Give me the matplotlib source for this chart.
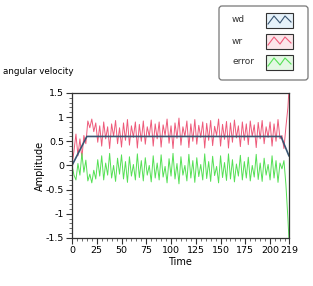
import matplotlib
matplotlib.use("Agg")
import matplotlib.pyplot as plt
from matplotlib.patches import FancyBboxPatch, Rectangle
from matplotlib.ticker import MultipleLocator

# Setpoint (wd) corner points
wd_t = [0, 15, 211, 219]
wd_v = [0.0, 0.6, 0.6, 0.2]

# Sampled time axis for wr / error
time = list(range(0, 219, 2)) + [219]

# Measured velocity (wr)
wr = [0.00, 0.30, 0.65, 0.20, 0.55, 0.15, 0.62, 0.45, 0.92, 0.78,
      0.96, 0.70, 0.88, 0.48, 0.82, 0.40, 0.90, 0.55, 0.80, 0.35,
      0.86, 0.60, 0.93, 0.45, 0.78, 0.38, 0.88, 0.52, 0.95, 0.42,
      0.82, 0.58, 0.90, 0.36, 0.85, 0.50, 0.92, 0.44, 0.80, 0.60,
      0.94, 0.40, 0.86, 0.55, 0.90, 0.38, 0.84, 0.62, 0.96, 0.46,
      0.82, 0.35, 0.88, 0.56, 0.98, 0.42, 0.80, 0.60, 0.92, 0.37,
      0.86, 0.50, 0.95, 0.44, 0.83, 0.58, 0.90, 0.36, 0.87, 0.52,
      0.93, 0.41, 0.81, 0.62, 0.96, 0.40, 0.85, 0.54, 0.91, 0.36,
      0.88, 0.48, 0.94, 0.57, 0.82, 0.39, 0.90, 0.52, 0.86, 0.43,
      0.92, 0.60, 0.84, 0.37, 0.89, 0.55, 0.93, 0.45, 0.80, 0.58,
      0.90, 0.40, 0.86, 0.50, 0.95, 0.55, 0.62, 0.35, 0.80, 1.20,
      1.55]

# Tracking error
error = [0.00, -0.20, -0.30, 0.04, -0.20, 0.25, -0.14, 0.11, -0.32, -0.18,
         -0.36, -0.10, -0.28, 0.12, -0.22, 0.20, -0.30, 0.05, -0.20, 0.25,
         -0.26, 0.00, -0.33, 0.15, -0.18, 0.22, -0.28, 0.08, -0.35, 0.18,
         -0.22, 0.02, -0.30, 0.24, -0.25, 0.10, -0.32, 0.16, -0.20, 0.00,
         -0.34, 0.20, -0.26, 0.05, -0.30, 0.22, -0.24, -0.02, -0.36, 0.14,
         -0.22, 0.25, -0.28, 0.04, -0.38, 0.18, -0.20, 0.00, -0.32, 0.23,
         -0.26, 0.10, -0.35, 0.16, -0.23, 0.02, -0.30, 0.24, -0.27, 0.08,
         -0.33, 0.19, -0.21, -0.02, -0.36, 0.20, -0.25, 0.06, -0.31, 0.24,
         -0.28, 0.12, -0.34, 0.03, -0.22, 0.21, -0.30, 0.08, -0.26, 0.17,
         -0.32, 0.00, -0.24, 0.23, -0.29, 0.05, -0.33, 0.15, -0.20, 0.02,
         -0.30, 0.20, -0.26, 0.10, -0.35, 0.05, -0.07, 0.10, -0.40, -1.10,
         -1.50]

x_ticks = [0, 25, 50, 75, 100, 125, 150, 175, 200, 219]
y_ticks = [-1.5, -1, -0.5, 0, 0.5, 1, 1.5]
y_tick_labels = ["-1.5", "-1", "-0.5", "0", "0.5", "1", "1.5"]

legend_names = ["wd", "wr", "error"]
c_wd, c_wr, c_err = "#3a5673", "#ee5a7a", "#55e055"
fills = ["#e6f2fa", "#fbe6ea", "#e4f8e4"]

plt.rcParams["font.family"] = "DejaVu Sans"
fig = plt.figure(figsize=(3.13, 2.86), dpi=100)
ax = fig.add_axes([0.230, 0.168, 0.693, 0.507])

ax.plot(time, wr, color=c_wr, lw=0.7)
ax.plot(time, error, color=c_err, lw=0.7)
ax.plot(wd_t, wd_v, color=c_wd, lw=1.2)

ax.set_xlim(0, 219)
ax.set_ylim(-1.5, 1.5)
ax.set_xticks(x_ticks)
ax.set_yticks(y_ticks)
ax.set_yticklabels(y_tick_labels)
ax.xaxis.set_minor_locator(MultipleLocator(5))
ax.yaxis.set_minor_locator(MultipleLocator(0.1))
ax.tick_params(which="major", length=4, width=0.8, labelsize=6.8, pad=1.5, color="#333333")
ax.tick_params(which="minor", length=2, width=0.6, color="#555555")
for s in ax.spines.values():
    s.set_color("#333333")
    s.set_linewidth(0.9)

ax.set_xlabel("Time", fontsize=7, labelpad=2)
ax.set_ylabel("Amplitude", fontsize=7, labelpad=1)
fig.text(3 / 313, 1 - 72 / 286, "angular velocity", fontsize=6.3, va="center", ha="left")

# legend panel, pixel coordinates
lg = fig.add_axes([218 / 313, 1 - 81 / 286, 91 / 313, 76 / 286])
lg.set_xlim(0, 91)
lg.set_ylim(76, 0)
lg.axis("off")
lg.add_patch(FancyBboxPatch((1, 1), 89, 74, boxstyle="round,pad=0,rounding_size=3",
                            fc="white", ec="#777777", lw=0.9))
colors = [c_wd, c_wr, c_err]
for i, name in enumerate(legend_names):
    yc = 15 + i * 21
    lg.text(14, yc, name, fontsize=6.5, va="center", ha="left", color="#333333")
    lg.add_patch(Rectangle((48, yc - 7.5), 27, 15, fc=fills[i], ec="#333333", lw=0.8))
    lg.plot([50, 56, 62, 67, 73], [yc + 4, yc - 4, yc + 3, yc - 4, yc + 2], color=colors[i], lw=0.8)

fig.savefig("out.png", dpi=100)
